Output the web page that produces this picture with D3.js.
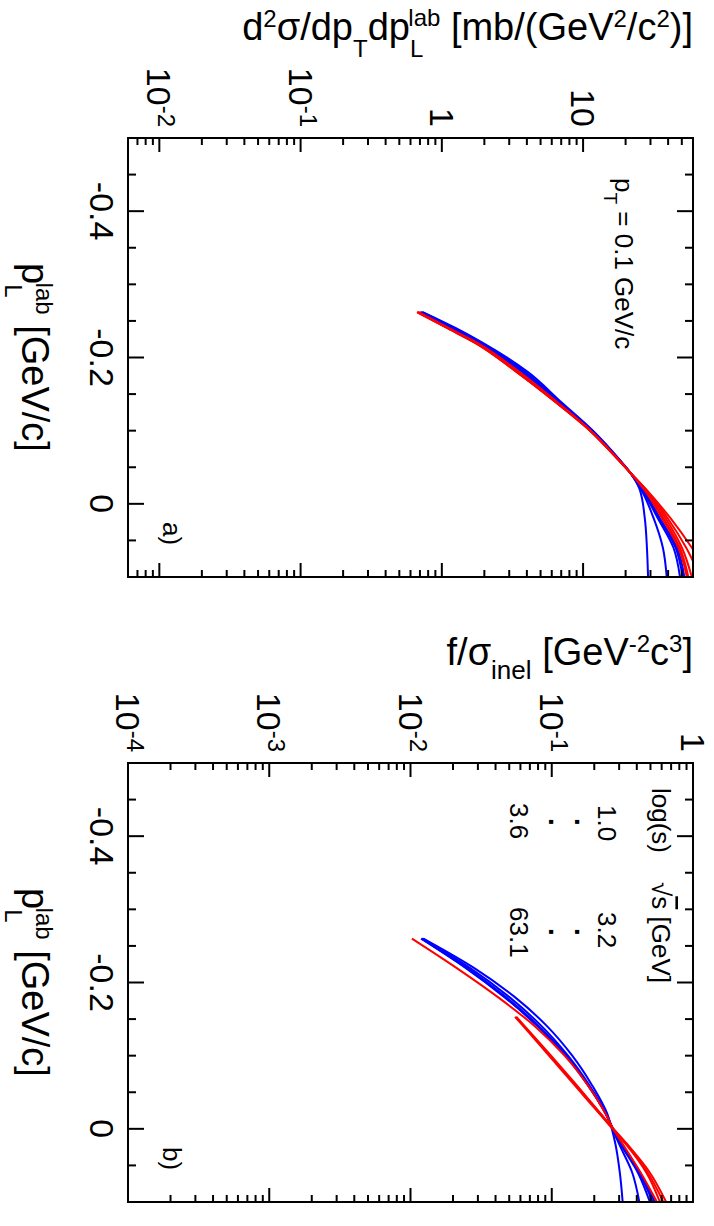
<!DOCTYPE html>
<html><head><meta charset="utf-8">
<script src="https://cdn.jsdelivr.net/npm/d3@7"></script>
<style>
html,body{margin:0;padding:0;background:#fff;}
svg{display:block;}
text{font-family:"Liberation Sans",Arial,Helvetica,sans-serif;fill:#000;}
</style></head><body>
<svg id="c" width="714" height="1226"></svg>
<script>
// ---------------- data ----------------
const pLabDomain = [-0.5, 0.1];
const pLabMajorTicks = [-0.4, -0.2, 0];
const pLabTickLabels = ["-0.4", "-0.2", "0"];

const panelADomain = [0.006, 60];
const panelATicks = [0.01, 0.1, 1, 10];
const panelALabels = [["10","-2"],["10","-1"],["1",""],["10",""]];

const panelBDomain = [1e-4, 1];
const panelBTicks = [1e-4, 1e-3, 1e-2, 1e-1, 1];
const panelBLabels = [["10","-4"],["10","-3"],["10","-2"],["10","-1"],["1",""]];

// panel a: log10 of d2sigma/dpT dpL [mb/(GeV^2/c^2)] vs pL
const pGridA = [-0.262, -0.24, -0.22, -0.18, -0.14, -0.10, -0.06, -0.043, -0.02, 0.02, 0.06, 0.10];
const panelABlue = [
  [-0.135, 0.10, 0.29, 0.61, 0.84, 1.07, 1.26, 1.332, 1.40, 1.437, 1.452, 1.46],
  [-0.14, 0.09, 0.28, 0.59, 0.83, 1.065, 1.258, 1.332, 1.41, 1.50, 1.565, 1.592],
  [-0.145, 0.08, 0.27, 0.575, 0.825, 1.06, 1.256, 1.332, 1.415, 1.53, 1.64, 1.686],
  [-0.15, 0.07, 0.26, 0.565, 0.82, 1.058, 1.255, 1.332, 1.42, 1.54, 1.655, 1.705],
  [-0.155, 0.06, 0.255, 0.555, 0.815, 1.055, 1.254, 1.332, 1.425, 1.545, 1.665, 1.717]
];
const panelARed = [
  [-0.165, 0.05, 0.25, 0.55, 0.81, 1.053, 1.253, 1.332, 1.43, 1.56, 1.675, 1.735],
  [-0.17, 0.045, 0.245, 0.54, 0.805, 1.051, 1.252, 1.332, 1.435, 1.57, 1.685, 1.745],
  [-0.17, 0.045, 0.24, 0.535, 0.80, 1.05, 1.251, 1.332, 1.44, 1.585, 1.70, 1.77],
  [-0.175, 0.04, 0.237, 0.532, 0.80, 1.05, 1.25, 1.332, 1.443, 1.60, 1.73, 1.83],
  [-0.175, 0.04, 0.235, 0.53, 0.80, 1.05, 1.25, 1.332, 1.445, 1.62, 1.77, 1.90]
];

// panel b: log10 of f/sigma_inel [GeV^-2 c^3] vs pL
const pGridB = [-0.26, -0.22, -0.18, -0.14, -0.10, -0.06, -0.02, 0.0, 0.02, 0.06, 0.10];
const panelBBlue = [
  [-1.909, -1.551, -1.261, -1.032, -0.855, -0.716, -0.606, -0.575, -0.55, -0.518, -0.498],
  [-1.915, -1.58, -1.30, -1.07, -0.885, -0.735, -0.612, -0.57, -0.525, -0.43, -0.38],
  [-1.92, -1.60, -1.325, -1.09, -0.895, -0.742, -0.615, -0.568, -0.515, -0.39, -0.305],
  [-1.92, -1.605, -1.33, -1.095, -0.90, -0.745, -0.616, -0.567, -0.51, -0.38, -0.285],
  [-1.925, -1.61, -1.335, -1.10, -0.903, -0.745, -0.616, -0.566, -0.505, -0.375, -0.27]
];
const panelBRedLong = [
  [-1.99, -1.675, -1.381, -1.118, -0.909, -0.746, -0.617, -0.565, -0.50, -0.37, -0.255]
];
const pGridBShort = [-0.153, -0.14, -0.10, -0.06, -0.02, 0.0, 0.02, 0.06, 0.10];
const panelBRedShort = [
  [-1.26, -1.20, -1.02, -0.84, -0.66, -0.57, -0.48, -0.33, -0.234],
  [-1.255, -1.195, -1.013, -0.832, -0.655, -0.566, -0.475, -0.32, -0.21],
  [-1.25, -1.19, -1.005, -0.825, -0.65, -0.562, -0.47, -0.305, -0.19]
];

const legendHeader = ["log(s)", " [GeV]"];
const legendFirst = ["1.0", "3.2"];
const legendLast = ["3.6", "63.1"];

// ---------------- drawing ----------------
const svg = d3.select("#c");
// whole figure is drawn in its natural orientation, then turned 90 degrees clockwise
const g = svg.append("g").attr("transform", "translate(714,0) rotate(90)");

const PW = 439, V0 = 21, V1 = 586;
const FS = 34, TFS = 38, SFS = 24;

function panel(opt) {
  const u0 = opt.u0;
  const x = d3.scaleLinear().domain(pLabDomain).range([u0, u0 + PW]);
  const y = d3.scaleLog().domain(opt.domain).range([V1, V0]);
  const pg = g.append("g");

  const clipId = "clip" + opt.id;
  pg.append("clipPath").attr("id", clipId).append("rect")
    .attr("x", u0).attr("y", V0).attr("width", PW).attr("height", V1 - V0);

  // curves
  const line = d3.line()
    .x(d => x(d[0])).y(d => y(Math.pow(10, d[1])))
    .curve(d3.curveMonotoneX);
  const cg = pg.append("g").attr("clip-path", `url(#${clipId})`);
  opt.series.forEach(s => {
    s.values.forEach(vals => {
      cg.append("path")
        .attr("d", line(s.grid.map((p, i) => [p, vals[i]])))
        .attr("fill", "none").attr("stroke", s.color).attr("stroke-width", 2);
    });
  });

  // pL ticks (bottom & top of natural frame)
  const minor = d3.range(-0.45, 0.1, 0.05).filter(t => !pLabMajorTicks.some(m => Math.abs(m - t) < 1e-6));
  const tg = pg.append("g").attr("stroke", "#000").attr("stroke-width", 2);
  pLabMajorTicks.forEach(t => {
    tg.append("line").attr("x1", x(t)).attr("x2", x(t)).attr("y1", V1).attr("y2", V1 - 16);
    tg.append("line").attr("x1", x(t)).attr("x2", x(t)).attr("y1", V0).attr("y2", V0 + 16);
  });
  minor.forEach(t => {
    tg.append("line").attr("x1", x(t)).attr("x2", x(t)).attr("y1", V1).attr("y2", V1 - 8);
    tg.append("line").attr("x1", x(t)).attr("x2", x(t)).attr("y1", V0).attr("y2", V0 + 8);
  });
  // log ticks (left & right of natural frame)
  const [d0, d1] = opt.domain;
  for (let e = Math.floor(Math.log10(d0)); e <= Math.ceil(Math.log10(d1)); e++) {
    for (let k = 1; k <= 9; k++) {
      const v = k * Math.pow(10, e);
      if (v < d0 * 0.999 || v > d1 * 1.001) continue;
      const len = k === 1 ? 14 : 7;
      tg.append("line").attr("x1", u0).attr("x2", u0 + len).attr("y1", y(v)).attr("y2", y(v));
      tg.append("line").attr("x1", u0 + PW).attr("x2", u0 + PW - len).attr("y1", y(v)).attr("y2", y(v));
    }
  }
  // frame
  pg.append("rect").attr("x", u0).attr("y", V0).attr("width", PW).attr("height", V1 - V0)
    .attr("fill", "none").attr("stroke", "#000").attr("stroke-width", 2);

  // pL labels
  pLabMajorTicks.forEach((t, i) => {
    pg.append("text").attr("x", x(t)).attr("y", 624).attr("text-anchor", "middle")
      .attr("font-size", FS).text(pLabTickLabels[i]);
  });
  // log labels
  opt.ticks.forEach((t, i) => {
    const tx = pg.append("text").attr("x", u0 - 11).attr("y", y(t) + 12)
      .attr("text-anchor", "end").attr("font-size", FS);
    tx.append("tspan").text(opt.labels[i][0]);
    if (opt.labels[i][1]) tx.append("tspan").attr("font-size", 24).attr("dy", -11).text(opt.labels[i][1]);
  });

  // x title: p_L^lab [GeV/c]
  const xt = pg.append("text").attr("x", u0 + PW / 2).attr("y", 692)
    .attr("text-anchor", "middle").attr("font-size", TFS);
  xt.append("tspan").text("p");
  xt.append("tspan").attr("font-size", SFS).attr("dy", 17).text("L");
  xt.append("tspan").attr("font-size", SFS).attr("dx", -15).attr("dy", -31).text("lab");
  xt.append("tspan").attr("dy", 14).text(" [GeV/c]");

  // y title
  const yt = pg.append("text").attr("transform", `translate(${u0 - 98},${V0}) rotate(-90)`)
    .attr("text-anchor", "end").attr("font-size", TFS);
  opt.ytitle(yt);

  // panel label
  pg.append("text").attr("x", u0 + 384).attr("y", 551).attr("font-size", 26).text(opt.tag);
  return {x, y, pg};
}

// panel a
const A = panel({
  id: "a", u0: 138, domain: panelADomain, ticks: panelATicks, labels: panelALabels, tag: "a)",
  series: [
    {grid: pGridA, values: panelABlue, color: "#0000ff"},
    {grid: pGridA, values: panelARed, color: "#ff0000"}
  ],
  ytitle: t => {
    t.append("tspan").text("d");
    t.append("tspan").attr("font-size", SFS).attr("dy", -13).text("2");
    t.append("tspan").attr("dy", 13).text("σ/dp");
    t.append("tspan").attr("font-size", SFS).attr("dy", 17).text("T");
    t.append("tspan").attr("dy", -17).text("dp");
    t.append("tspan").attr("font-size", SFS).attr("dy", 17).text("L");
    t.append("tspan").attr("font-size", SFS).attr("dx", -15).attr("dy", -31).text("lab");
    t.append("tspan").attr("dy", 14).text(" [mb/(GeV");
    t.append("tspan").attr("font-size", SFS).attr("dy", -13).text("2");
    t.append("tspan").attr("dy", 13).text("/c");
    t.append("tspan").attr("font-size", SFS).attr("dy", -13).text("2");
    t.append("tspan").attr("dy", 13).text(")]");
  }
});
// pT label
const ptl = A.pg.append("text").attr("x", 178).attr("y", 99).attr("font-size", 26);
ptl.append("tspan").text("p");
ptl.append("tspan").attr("font-size", 19).attr("dy", 11).text("T");
ptl.append("tspan").attr("dy", -11).text(" = 0.1 GeV/c");

// panel b
const B = panel({
  id: "b", u0: 763, domain: panelBDomain, ticks: panelBTicks, labels: panelBLabels, tag: "b)",
  series: [
    {grid: pGridB, values: panelBBlue, color: "#0000ff"},
    {grid: pGridB, values: panelBRedLong, color: "#ff0000"},
    {grid: pGridBShort, values: panelBRedShort, color: "#ff0000"}
  ],
  ytitle: t => {
    t.append("tspan").text("f/σ");
    t.append("tspan").attr("font-size", SFS + 2).attr("dy", 14).text("inel");
    t.append("tspan").attr("dy", -14).text(" [GeV");
    t.append("tspan").attr("font-size", SFS).attr("dy", -13).text("-2");
    t.append("tspan").attr("dy", 13).text("c");
    t.append("tspan").attr("font-size", SFS).attr("dy", -13).text("3");
    t.append("tspan").attr("dy", 13).text("]");
  }
});

// legend in panel b
const LF = 26;
B.pg.append("text").attr("x", 788).attr("y", 62).attr("font-size", LF).text(legendHeader[0]);
const sq = B.pg.append("text").attr("x", 882).attr("y", 62).attr("font-size", LF);
sq.append("tspan").text("√");
sq.append("tspan").style("text-decoration", "overline").text("s");
sq.append("tspan").text(legendHeader[1]);
B.pg.append("text").attr("x", 805).attr("y", 116).attr("font-size", LF).text(legendFirst[0]);
B.pg.append("text").attr("x", 912).attr("y", 116).attr("font-size", LF).text(legendFirst[1]);
B.pg.append("text").attr("x", 803).attr("y", 204).attr("font-size", LF).text(legendLast[0]);
B.pg.append("text").attr("x", 907).attr("y", 204).attr("font-size", LF).text(legendLast[1]);
[822, 932].forEach(u => {
  [139, 165].forEach(v => {
    B.pg.append("text").attr("x", u).attr("y", v).attr("text-anchor", "middle")
      .attr("font-size", 28).attr("font-weight", "bold").text(".");
  });
});
</script>
</body></html>
